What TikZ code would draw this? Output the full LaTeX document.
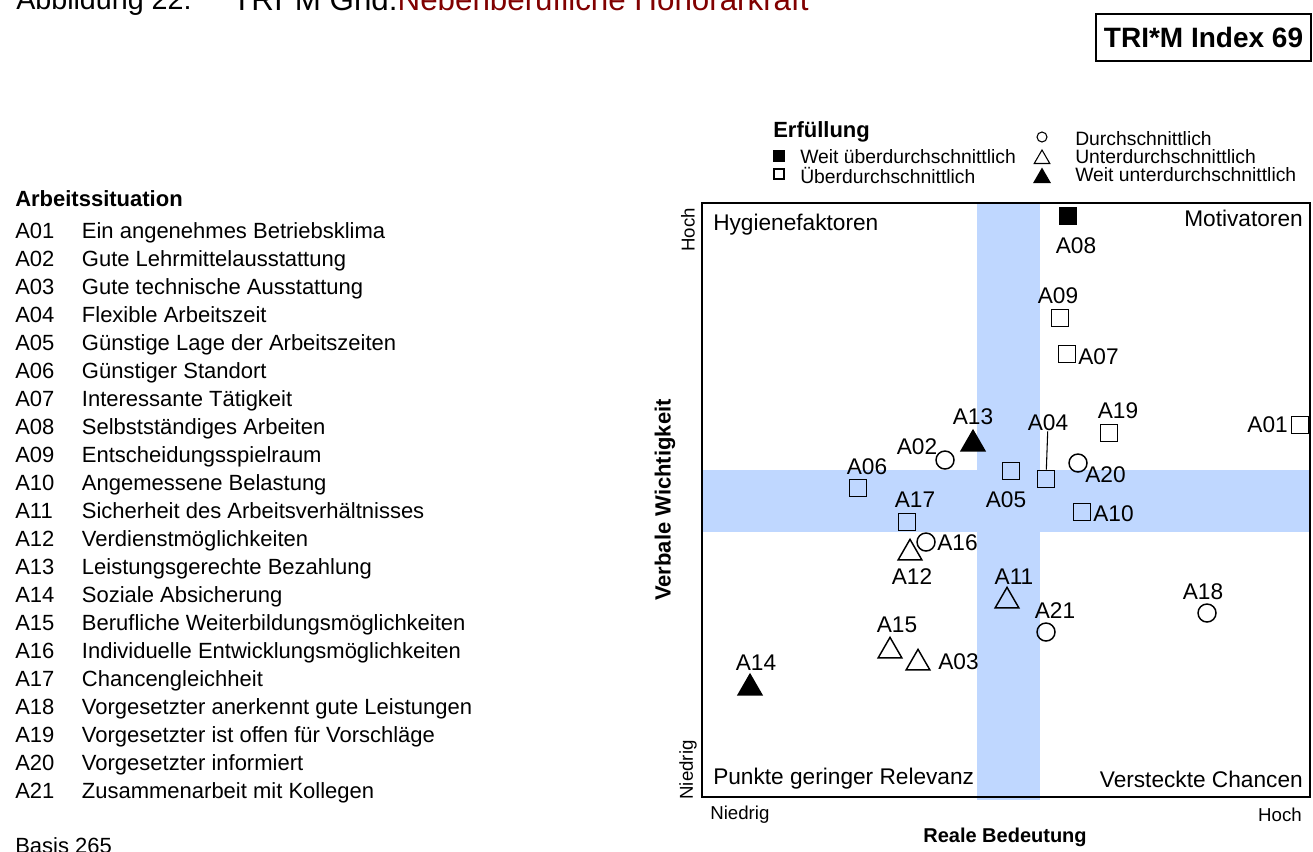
\documentclass[tikz,border=0pt]{standalone}
\usepackage{fontspec}
\setmainfont{Liberation Sans}
\usetikzlibrary{shapes.geometric}
\definecolor{bandblue}{RGB}{191,215,255}
\definecolor{titlered}{RGB}{128,0,0}
\tikzset{
  lbl/.style={font=\fontsize{17}{20}\selectfont, inner sep=0pt},
  lgd/.style={font=\fontsize{14.5}{17}\selectfont, inner sep=0pt, anchor=west},
  achse/.style={font=\fontsize{14}{16}\selectfont, inner sep=0pt},
  mk/.style={draw, line width=1.1pt, inner sep=0pt},
  sq/.style={mk, rectangle, minimum size=13pt},
  sqf/.style={sq, fill=black},
  rnd/.style={mk, circle, minimum size=13.5pt},
  tri/.style={mk, regular polygon, regular polygon sides=3, minimum size=20.5pt},
  trif/.style={tri, fill=black}
}

\begin{document}
\begin{tikzpicture}[x=0.75pt, y=-0.75pt]
       \useasboundingbox (0,0) rectangle (1313,851);
       \clip (0,0) rectangle (1313,851);

       \node(abb)[anchor=base west, inner sep=0pt, font=\fontsize{21.5}{25}\selectfont] at (16,9) {Abbildung 22:};
       \node(titel)[anchor=base west, inner sep=0pt, font=\fontsize{23.5}{26}\selectfont] at (232,10) {TRI*M Grid:\textcolor{titlered}{Nebenberufliche Honorarkraft}};
       \node(index)[draw, line width=1.5pt, minimum width=161pt, minimum height=35pt, font=\bfseries\fontsize{21}{24}\selectfont] at (1203.5,37.5) {TRI*M Index 69};

       \node(kopf)[anchor=base west, inner sep=0pt, font=\bfseries\fontsize{16.5}{20}\selectfont] at (15,206) {Arbeitssituation};
       \node(liste)[anchor=north west, inner sep=0pt, font=\fontsize{16.5}{21}\selectfont] at (15,218.4) {%
         \begin{tabular}{@{}p{50pt}@{}l@{}}
         A01 & Ein angenehmes Betriebsklima\\
         A02 & Gute Lehrmittelausstattung\\
         A03 & Gute technische Ausstattung\\
         A04 & Flexible Arbeitszeit\\
         A05 & Günstige Lage der Arbeitszeiten\\
         A06 & Günstiger Standort\\
         A07 & Interessante Tätigkeit\\
         A08 & Selbstständiges Arbeiten\\
         A09 & Entscheidungsspielraum\\
         A10 & Angemessene Belastung\\
         A11 & Sicherheit des Arbeitsverhältnisses\\
         A12 & Verdienstmöglichkeiten\\
         A13 & Leistungsgerechte Bezahlung\\
         A14 & Soziale Absicherung\\
         A15 & Berufliche Weiterbildungsmöglichkeiten\\
         A16 & Individuelle Entwicklungsmöglichkeiten\\
         A17 & Chancengleichheit\\
         A18 & Vorgesetzter anerkennt gute Leistungen\\
         A19 & Vorgesetzter ist offen für Vorschläge\\
         A20 & Vorgesetzter informiert\\
         A21 & Zusammenarbeit mit Kollegen
         \end{tabular}};
       \node(basis)[anchor=base west, inner sep=0pt, font=\fontsize{16.5}{20}\selectfont] at (15,853) {Basis 265};

       \node(erf)[anchor=base west, inner sep=0pt, font=\bfseries\fontsize{16.5}{20}\selectfont] at (773,137) {Erfüllung};
       \node(Lwue)[mk, rectangle, minimum size=7.5pt, fill=black] at (779,156) {};
       \node(NLwue)[lgd] at (800,157) {Weit überdurchschnittlich};
       \node(Lue)[mk, rectangle, minimum size=7.5pt, line width=0.8pt] at (779,174) {};
       \node(NLue)[lgd] at (800,175) {Überdurchschnittlich};
       \node(Ld)[mk, circle, minimum size=7.5pt, line width=0.8pt] at (1042,137) {};
       \node(NLd)[lgd] at (1075,139) {Durchschnittlich};
       \node(Lu)[mk, regular polygon, regular polygon sides=3, minimum size=13.5pt, line width=0.8pt] at (1042,159) {};
       \node(NLu)[lgd] at (1075,157) {Unterdurchschnittlich};
       \node(Lwu)[mk, regular polygon, regular polygon sides=3, minimum size=13.5pt, fill=black] at (1042,178) {};
       \node(NLwu)[lgd] at (1075,175) {Weit unterdurchschnittlich};

       \fill[bandblue] (977,203) rectangle (1040,800);
       \fill[bandblue] (702,470) rectangle (1310,532);
       \draw[line width=1.2pt] (702,203) rectangle (1310,797);

       \node(hyg)[lbl, anchor=west] at (713,225) {Hygienefaktoren};
       \node(mot)[lbl, anchor=east] at (1303,218) {Motivatoren};
       \node(pgr)[lbl, anchor=west] at (713,779) {Punkte geringer Relevanz};
       \node(vch)[lbl, anchor=east] at (1303,779) {Versteckte Chancen};

       \node(yhoch)[achse, rotate=90] at (688,230) {Hoch};
       \node(yniedrig)[achse, rotate=90] at (688,770) {Niedrig};
       \node(ytitel)[rotate=90, inner sep=0pt, font=\bfseries\fontsize{16.5}{19}\selectfont] at (665,500) {Verbale Wichtigkeit};
       \node(xniedrig)[achse, anchor=west] at (710,815) {Niedrig};
       \node(xhoch)[achse, anchor=east] at (1302,815) {Hoch};
       \node(xtitel)[inner sep=0pt, font=\bfseries\fontsize{15}{18}\selectfont] at (1005,837) {Reale Bedeutung};

       \node(A08)[sqf] at (1068,216) {};
       \node(NA08)[lbl] at (1076,246) {A08};

       \node(A09)[sq] at (1060,318) {};
       \node(NA09)[lbl] at (1058,296) {A09};

       \node(A07)[sq] at (1067,354) {};
       \node(NA07)[lbl, anchor=west] at (1078,357) {A07};

       \node(A01)[sq] at (1300,425) {};
       \node(NA01)[lbl, anchor=east] at (1288,425) {A01};

       \node(A19)[sq] at (1109,433) {};
       \node(NA19)[lbl] at (1118,411) {A19};

       \node(A13)[trif] at (973,444) {};
       \node(NA13)[lbl] at (973,417) {A13};

       \node(A04)[sq] at (1046,479) {};
       \node(NA04)[lbl] at (1048,423) {A04};
       \draw[line width=0.8pt] (NA04) -- (A04);

       \node(A02)[rnd] at (945,460) {};
       \node(NA02)[lbl] at (917,447) {A02};

       \node(A05)[sq] at (1011,471) {};
       \node(NA05)[lbl] at (1006,500) {A05};

       \node(A20)[rnd] at (1078,463) {};
       \node(NA20)[lbl, anchor=west] at (1085,475) {A20};

       \node(A06)[sq] at (858,488) {};
       \node(NA06)[lbl] at (867,467) {A06};

       \node(A17)[sq] at (907,522) {};
       \node(NA17)[lbl] at (915,500) {A17};

       \node(A10)[sq] at (1082,512) {};
       \node(NA10)[lbl, anchor=west] at (1093,514) {A10};

       \node(A16)[rnd] at (926,542) {};
       \node(NA16)[lbl, anchor=west] at (937,543) {A16};

       \node(A12)[tri] at (910,553) {};
       \node(NA12)[lbl] at (912,577) {A12};

       \node(A11)[tri] at (1007,601) {};
       \node(NA11)[lbl] at (1014,577) {A11};

       \node(A21)[rnd] at (1046,632) {};
       \node(NA21)[lbl] at (1055,611) {A21};

       \node(A18)[rnd] at (1207,613) {};
       \node(NA18)[lbl] at (1203,592) {A18};

       \node(A15)[tri] at (890,651) {};
       \node(NA15)[lbl] at (897,625) {A15};

       \node(A03)[tri] at (918,663) {};
       \node(NA03)[lbl, anchor=west] at (938,662) {A03};

       \node(A14)[trif] at (750,688) {};
       \node(NA14)[lbl] at (756,663) {A14};

     \end{tikzpicture}
\end{document}
